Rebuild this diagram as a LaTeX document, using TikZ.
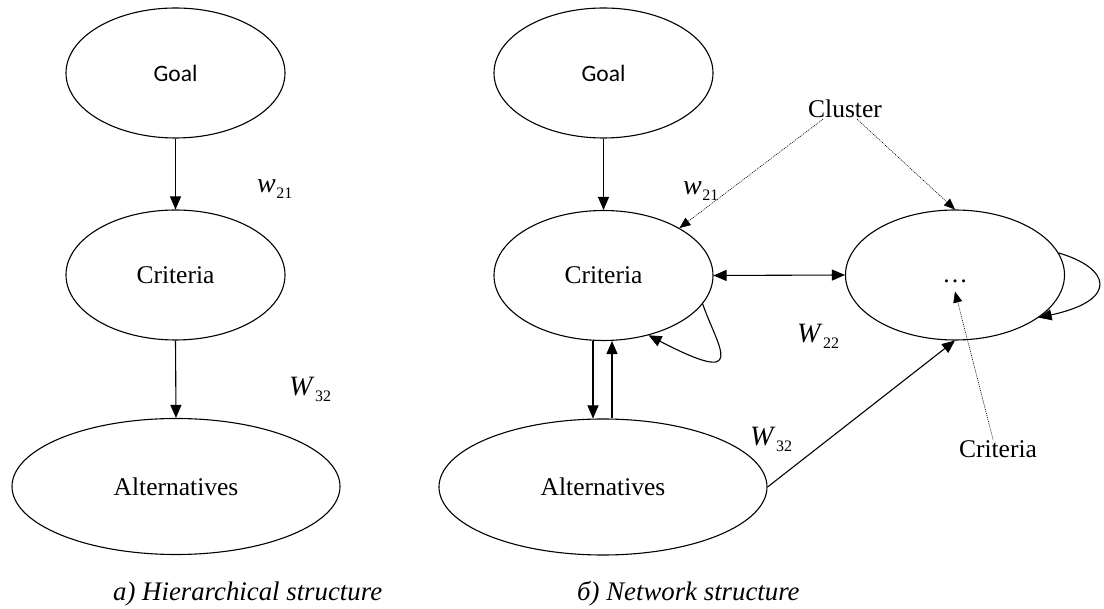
\documentclass[tikz,border=0pt]{standalone}
\usepackage{fontspec}
\setmainfont{Liberation Serif}
\newfontfamily\goalfont{Carlito}
\usetikzlibrary{arrows.meta,shapes.geometric}
\newcommand{\wl}[2]{\textit{#1}\kern0.5pt\raisebox{-6pt}{\fontsize{16}{18}\selectfont #2}}
\begin{document}
\begin{tikzpicture}[x=1pt,y=-1pt,
  ell/.style={draw, ellipse, line width=1.1pt, minimum width=219pt, minimum height=130pt, inner sep=0pt},
  bigell/.style={ell, minimum width=328pt, minimum height=136pt},
  txt/.style={font=\fontsize{25.5}{30}\selectfont},
  goaltxt/.style={font=\goalfont\fontsize{23.5}{28}\selectfont},
  lbl/.style={font=\fontsize{25.5}{30}\selectfont, inner sep=1pt},
  wlab/.style={font=\fontsize{28}{30}\selectfont, inner sep=0pt, anchor=base west},
  capt/.style={font=\itshape\fontsize{26.8}{30}\selectfont, inner sep=0pt, anchor=base west},
  arr/.style={line width=1.1pt, -{Triangle[length=13pt,width=11pt]}},
  biarr/.style={line width=1.1pt, {Triangle[length=13pt,width=11pt]}-{Triangle[length=13pt,width=11pt]}},
  dotarr/.style={line width=0.6pt, dash pattern=on 1pt off 1pt, -{Triangle[length=11pt,width=9pt]}}
]
\useasboundingbox (0,0) rectangle (1104,609);

% left: hierarchical
\node[ell, goaltxt] (g1) at (175.5,73) {Goal};
\node[ell, txt] (c1) at (175.5,275) {Criteria};
\node[bigell, txt] (a1) at (176,486.5) {Alternatives};
\draw[arr] (g1.south) -- (c1.north);
\draw[arr] (c1.south) -- (a1.north);
\node[wlab] (wl21) at (257,193) {\wl{w}{21}};
\node[wlab] (wl32) at (289,396) {\wl{W}{32}};

% right: network
\node[ell, goaltxt] (g2) at (603.5,73) {Goal};
\node[ell, txt] (c2) at (603.5,275.5) {Criteria};
\node[bigell, txt] (a2) at (603,487) {Alternatives};
\node[ell] (d2) at (955,275) {};
\node[txt, inner sep=1pt, anchor=base] (dots) at (955,283) {\ldots};

\draw[arr] (g2.south) -- (c2.north);
\draw[arr] ([xshift=-10.5pt]c2.south) -- ([xshift=-10pt]a2.north);
\draw[arr] ([xshift=9pt]a2.north) -- ([xshift=8.5pt]c2.south);
\draw[biarr] (c2.east) -- (d2.west);
\draw[arr] (a2.east) -- (d2.south);
\draw[arr] (c2.-16.5) .. controls (718,348) and (750,388) .. (c2.-53.5);
\draw[arr] (d2.12.7) .. controls (1110,268) and (1120,300) .. (d2.-27.4);

\node[lbl] (cl) at (845,109) {Cluster};
\node[lbl] (cr) at (998,449) {Criteria};
\draw[dotarr] ([xshift=-22pt]cl.south) -- (c2.32);
\draw[dotarr] ([xshift=12pt]cl.south) -- (d2.north);
\draw[dotarr] ([xshift=-5pt]cr.north) -- ([yshift=-7pt]dots.south);

\node[wlab] (wr21) at (683,195) {\wl{w}{21}};
\node[wlab] (wr22) at (797,343) {\wl{W}{22}};
\node[wlab] (wr32) at (750,446) {\wl{W}{32}};

\node[capt] (cap1) at (113,600) {a) Hierarchical structure};
\node[capt] (cap2) at (577,600) {б) Network structure};
\end{tikzpicture}
\end{document}
